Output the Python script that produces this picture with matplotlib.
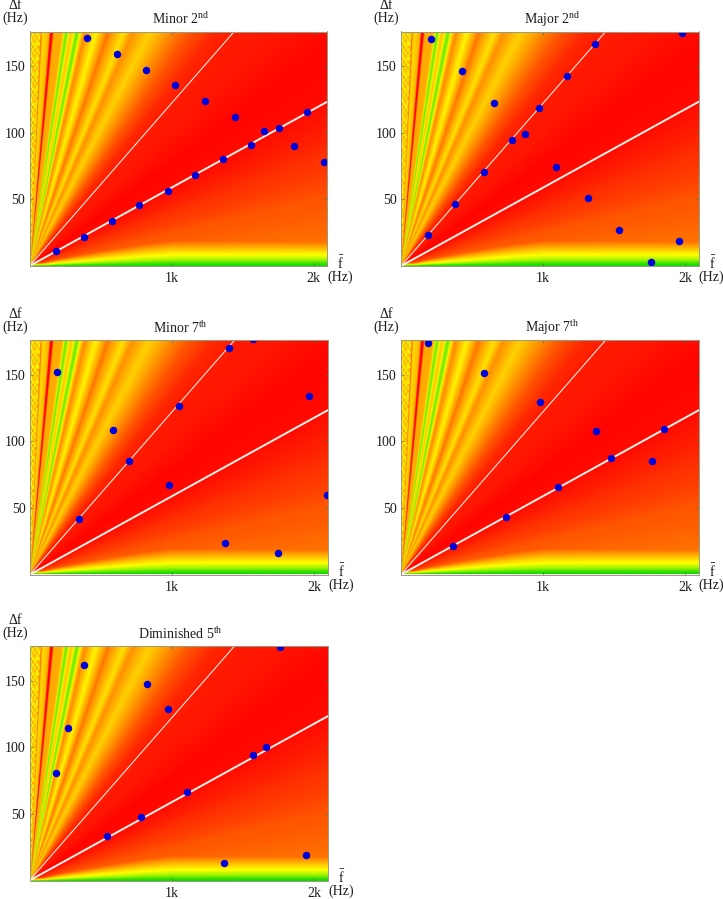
import numpy as np
import matplotlib
matplotlib.use("Agg")
import matplotlib.pyplot as plt
from matplotlib.colors import LinearSegmentedColormap

plt.rcParams['font.family'] = ['Liberation Serif', 'DejaVu Serif']
plt.rcParams['mathtext.fontset'] = 'custom'
plt.rcParams['mathtext.rm'] = 'Liberation Serif'
plt.rcParams['mathtext.it'] = 'Liberation Serif:italic'
plt.rcParams['mathtext.bf'] = 'Liberation Serif:bold'

W, H = 723, 899
XMAX, YMAX = 2095, 176

titles = ["Minor 2$^{\\mathrm{nd}}$", "Major 2$^{\\mathrm{nd}}$", "Minor 7$^{\\mathrm{th}}$",
          "Major 7$^{\\mathrm{th}}$", "Diminished 5$^{\\mathrm{th}}$"]

minor2_f = [405, 614, 821, 1028, 1238, 1445, 1654, 1864, 2071, 186, 384, 579, 774, 972, 1167, 1365, 1560, 1755, 1953]
minor2_d = [171, 159, 147, 136, 124, 112, 101, 90, 78, 11, 22, 34, 46, 56.5, 68, 80, 91, 103.5, 115.4]
major2_f = [210, 432, 654, 874, 1093, 1315, 1537, 1757, 1979, 1957, 189, 383, 581, 779, 973, 1171, 1367]
major2_d = [170, 146.5, 122.6, 98.8, 74.6, 50.7, 26.9, 2.7, 174.5, 18.7, 22.9, 46.8, 70.6, 94.5, 118.4, 142.5, 166.4]
minor7_f = [191, 583, 977, 1372, 1747, 1568, 1962, 2094, 342, 694, 1046, 1398]
minor7_d = [151.8, 108.8, 66.8, 23.5, 16.5, 177, 133.8, 59.5, 41.5, 85, 126.8, 169.8]
major7_f = [189, 586, 978, 1372, 1766, 364, 737, 1107, 1480, 1851]
major7_d = [173.8, 151.5, 129.3, 107.5, 85.5, 21.3, 43.3, 65.5, 87.3, 109.3]
dim5_f = [189, 269, 385, 826, 975, 1369, 1941, 1761, 548, 781, 1107, 1568, 1662]
dim5_d = [80.5, 114.5, 161.5, 147.5, 128.5, 13.5, 19.3, 175, 33.3, 47.3, 66.3, 94.3, 100.5]
series_f = [minor2_f, major2_f, minor7_f, major7_f, dim5_f]
series_d = [minor2_d, major2_d, minor7_d, major7_d, dim5_d]

# axes boxes in reference pixels: left, right, top, bottom
boxes = [(29.5, 327, 31.5, 266), (401, 698.5, 31.5, 266), (30, 327.5, 340, 574.5),
         (401, 698.5, 340, 574.5), (29.5, 327.5, 646, 880.5)]

# white guide lines, slope of df against f
upper_slope = 0.1221
lower_slope = 0.0588

# background: level read along rays (ray = f / df) and near the floor (df)
ray_stops = [0, .41, .44, .48, .54, .74, .78, .82, .90, .94,
             1.0, 1.26, 1.34, 1.40, 1.50, 1.56, 1.66, 1.76, 1.82, 1.94, 2.04, 2.2, 2.64, 3.12, 3.76, 4.12, 4.8,
             5.6, 6.4, 7.4, 8.4, 10, 13, 17, 25, 40, 70, 150, 100000]
ray_levels = [.44, .46, .88, .50, .46, .56, .66, 1.0, 1.0, .64,
              .60, .60, .50, .14, .14, .42, .52, .40, .14, .14, .45, .70, .37, .74, .43, .68, .48,
              .68, .81, .91, .94, .95, .99, .97, .89, .81, .77, .72, .70]
floor_df = [0, 2, 5, 8, 12, 16, 26, 300]
floor_levels = [0, .06, .20, .32, .48, .66, 1.0, 1.0]
floor_f = [0, 100, 200, 500, 800, 1000, 1500, 2095]
floor_scale = [.08, .12, .25, .55, .82, .95, .97, .97]
# mottled texture in the steepest part of the fan
mottle_limit = 0.42
mottle = [[-.14, .10, -.05, .16, -.12, .06, -.10],
          [.12, -.08, .15, -.16, .04, -.13, .14],
          [-.04, .16, -.15, .07, .13, -.09, -.02],
          [.15, -.12, .03, -.07, -.14, .16, .08],
          [-.10, .05, .13, -.16, .11, -.03, -.15]]

cmap = LinearSegmentedColormap.from_list("fan", [(0, (0.05, .85, 0)), (.17, (.6, .95, 0)), (.34, (1, 1, 0)),
                                                 (.67, (1, .58, 0)), (1, (1, 0, 0))])

f_grid = np.linspace(0, XMAX, 900)[None, :] + 1e-3
d_grid = np.linspace(0, YMAX, 700)[:, None] + 1e-3
rays = f_grid / d_grid
field = np.minimum(np.interp(rays, ray_stops, ray_levels),
                   np.interp(d_grid / np.interp(f_grid, floor_f, floor_scale), floor_df, floor_levels))
texture = np.kron(np.array(mottle), np.ones((9, 6)))
reps = (field.shape[0] // texture.shape[0] + 1, field.shape[1] // texture.shape[1] + 1)
texture = np.tile(texture, reps)[:field.shape[0], :field.shape[1]]
field = np.where(rays < mottle_limit, field + texture, field)

fig = plt.figure(figsize=(W / 100, H / 100), dpi=100)
text_size = 10
ink = '#1c1c1c'
frame = '#9a9a80'

for title, fs, ds, (l, r, t, b) in zip(titles, series_f, series_d, boxes):
    ax = fig.add_axes([l / W, 1 - b / H, (r - l) / W, (b - t) / H])
    ax.imshow(field, origin='lower', extent=(0, XMAX, 0, YMAX), aspect='auto', cmap=cmap,
              vmin=0, vmax=1, interpolation='bilinear')
    ax.plot([0, XMAX], [0, upper_slope * XMAX], color='#ffe6dc', lw=0.8)
    ax.plot([0, XMAX], [0, lower_slope * XMAX], color='#fff0ea', lw=1.4)
    ax.plot(fs, ds, 'o', color='#0000dc', ms=5.4, mew=0)
    ax.set_xlim(0, XMAX)
    ax.set_ylim(0, YMAX)
    ax.set_xticks([1000, 2000], ['1k', '2k'])
    ax.set_yticks([50, 100, 150])
    ax.tick_params(direction='in', length=2, width=0.5, color='#666655', labelsize=text_size,
                   top=True, right=True, pad=3, labelcolor=ink)
    ax.tick_params(axis='x', pad=4.5)
    for s in ax.spines.values():
        s.set_color(frame)
        s.set_linewidth(0.7)

    def put(px, py, txt):
        fig.text(px / W, 1 - py / H, txt, ha='center', va='center', fontsize=text_size, color=ink)

    put((l + r) / 2 + 2, t - 12, title)
    put(l - 14.5, t - 26, "Δf")
    put(l - 14.5, t - 13, "(Hz)")
    put(r + 14, b - 3, "$\\bar{\\mathrm{f}}$")
    put(min(r + 13.5, 711), b + 11, "(Hz)")

fig.savefig("out.png", dpi=100)
